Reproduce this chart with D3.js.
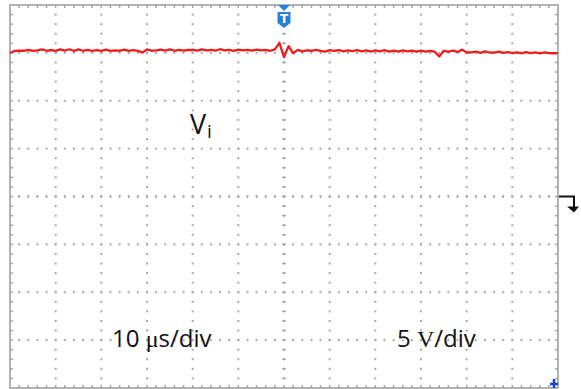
<!DOCTYPE html>
<html><head><meta charset="utf-8">
<script src="https://cdn.jsdelivr.net/npm/d3@7"></script>
<style>html,body{margin:0;padding:0;background:#fff;overflow:hidden}</style>
</head><body>
<svg id="c" width="581" height="389"></svg>
<script>
// ---- data ----
const timeRange = [0, 120];          // µs (12 div × 10 µs/div)
const voltRange = [-20, 20];         // V  (8 div × 5 V/div)
const timePerDiv = 10;
const voltPerDiv = 5;
const minorPerDiv = 5;
const sampleStep = 1;                // µs between samples
const traceVolts = [
 14.98,15.20,15.24,15.22,15.32,15.20,15.26,15.36,15.22,15.30,
 15.20,15.36,15.24,15.38,15.20,15.36,15.22,15.32,15.20,15.28,
 15.22,15.34,15.20,15.26,15.22,15.34,15.20,15.28,15.22,15.02,
 15.36,15.22,15.26,15.34,15.24,15.36,15.22,15.32,15.24,15.30,
 15.32,15.24,15.36,15.26,15.32,15.24,15.38,15.26,15.32,15.22,
 15.34,15.26,15.32,15.24,15.34,15.26,15.32,15.22,15.36,16.05,
 14.55,15.70,14.95,15.32,15.16,15.26,15.22,15.32,15.20,15.14,
 15.28,15.20,15.30,15.16,15.26,15.18,15.28,15.16,15.26,15.14,
 15.26,15.16,15.28,15.14,15.24,15.14,15.26,15.16,15.24,15.12,
 15.24,15.14,15.22,15.12,14.62,15.22,15.14,15.24,15.10,15.34,
 15.04,15.06,15.14,15.00,15.16,15.04,15.02,15.12,15.00,15.08,
 14.98,15.06,14.96,15.08,14.98,15.05,14.96,15.06,14.98,14.96,
 14.98
];
const timeNum = "10 ";
const timeUnit = "\u03bc";
const timeRest = "s/div";
const voltNum = "5 ";
const voltUnit = "V";
const voltRest = "/div";
const traceName = "V";
const traceSub = "i";

// ---- scales ----
const svg = d3.select("#c");
const x = d3.scaleLinear().domain(timeRange).range([10, 558]);
const y = d3.scaleLinear().domain(voltRange).range([388, 5]);
const gridCol = "#a8a8a8";

const majorT = d3.range(timeRange[0], timeRange[1] + 0.001, timePerDiv);
const majorV = d3.range(voltRange[0], voltRange[1] + 0.001, voltPerDiv);
const minorT = d3.range(timeRange[0], timeRange[1] + 0.001, timePerDiv / minorPerDiv);
const minorV = d3.range(voltRange[0], voltRange[1] + 0.001, voltPerDiv / minorPerDiv);

const g = svg.append("g");
majorT.slice(1, -1).forEach(t => {
  g.selectAll(null).data(minorV.slice(1, -1)).enter().append("rect")
    .attr("x", x(t) - 1).attr("y", v => y(v) - 1).attr("width", 2).attr("height", 2)
    .attr("fill", gridCol);
});
majorV.slice(1, -1).forEach(v => {
  g.selectAll(null).data(minorT.slice(1, -1)).enter().append("rect")
    .attr("x", t => x(t) - 1).attr("y", y(v) - 1).attr("width", 2).attr("height", 2)
    .attr("fill", gridCol);
});
g.selectAll(null).data(minorV.slice(1, -1)).enter().append("line")
  .attr("x1", x(60) - 2).attr("x2", x(60) + 2).attr("y1", v => y(v)).attr("y2", v => y(v))
  .attr("stroke", gridCol).attr("stroke-width", 1.2);
g.selectAll(null).data(minorT.slice(1, -1)).enter().append("line")
  .attr("y1", y(0) - 1.5).attr("y2", y(0) + 1.5).attr("x1", t => x(t)).attr("x2", t => x(t))
  .attr("stroke", gridCol).attr("stroke-width", 1.2);
[x(timeRange[0]), x(timeRange[1])].forEach((bx, i) => {
  g.selectAll(null).data(minorV.slice(1, -1)).enter().append("line")
    .attr("x1", bx).attr("x2", bx + (i ? -3 : 3)).attr("y1", v => y(v)).attr("y2", v => y(v))
    .attr("stroke", gridCol).attr("stroke-width", 1.5);
});
[y(voltRange[0]), y(voltRange[1])].forEach((by, i) => {
  g.selectAll(null).data(minorT.slice(1, -1)).enter().append("line")
    .attr("y1", by).attr("y2", by + (i ? 3 : -3)).attr("x1", t => x(t)).attr("x2", t => x(t))
    .attr("stroke", gridCol).attr("stroke-width", 1.5);
});
g.append("rect").attr("x", x(timeRange[0])).attr("y", y(voltRange[1]))
  .attr("width", x(timeRange[1]) - x(timeRange[0])).attr("height", y(voltRange[0]) - y(voltRange[1]))
  .attr("fill", "none").attr("stroke", "#9a9a9a").attr("stroke-width", 1.5);

// trace
const line = d3.line().x((d, i) => x(i * sampleStep)).y(d => y(d));
svg.append("path").datum(traceVolts).attr("d", line)
  .attr("fill", "none").attr("stroke", "#ee1c1c").attr("stroke-width", 2.3)
  .attr("stroke-linejoin", "round");

// trigger marker (top)
const tx = x(60), ty = y(voltRange[1]);
svg.append("path").attr("d", `M${tx-6},${ty} L${tx+6},${ty} L${tx},${ty+6} Z`).attr("fill", "#2a7fd8");
svg.append("path").attr("d", `M${tx-6.5},${ty+7} H${tx+6.5} V${ty+18} L${tx},${ty+23} L${tx-6.5},${ty+18} Z`)
  .attr("fill", "#2a7fd8");
svg.append("text").attr("x", tx).attr("y", ty + 18).attr("text-anchor", "middle")
  .attr("font-family", "DejaVu Sans").attr("font-weight", "bold").attr("font-size", 12)
  .attr("fill", "#fff").text("T");

// trigger level marker (right)
const rx = x(timeRange[1]), ry = y(0);
svg.append("path").attr("d", `M${rx+1},${ry} H${rx+16} V${ry+11}`)
  .attr("fill", "none").attr("stroke", "#111").attr("stroke-width", 2);
svg.append("path").attr("d", `M${rx+9},${ry+10} H${rx+21} L${rx+16},${ry+16} Z`).attr("fill", "#111");

// bottom-right marker
const bx = x(timeRange[1]) - 4, by = y(voltRange[0]) - 4;
svg.append("path").attr("d", `M${bx},${by-5} V${by+4} M${bx-4},${by} H${bx+4}`)
  .attr("stroke", "#1a3fe0").attr("stroke-width", 2.5);

// labels
const lab = svg.append("g").attr("font-family", "Open Sans, sans-serif").attr("fill", "#111");
const vt = lab.append("text").attr("x", 190).attr("y", 134).attr("font-size", 27);
vt.append("tspan").text(traceName);
vt.append("tspan").attr("font-size", 19).attr("dx", 1).attr("dy", 4).text(traceSub);
const tl = lab.append("text").attr("x", 112).attr("y", 347).attr("font-size", 24);
tl.append("tspan").text(timeNum);
tl.append("tspan").attr("font-family", "Liberation Serif, serif").text(timeUnit);
tl.append("tspan").text(timeRest);
const vl = lab.append("text").attr("x", 397).attr("y", 347).attr("font-size", 24);
vl.append("tspan").text(voltNum);
vl.append("tspan").attr("font-family", "Liberation Serif, serif").text(voltUnit);
vl.append("tspan").text(voltRest);
</script>
</body></html>
